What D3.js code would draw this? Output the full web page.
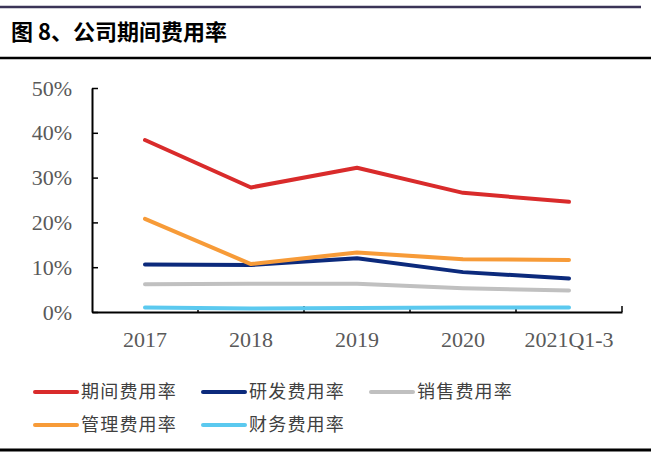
<!DOCTYPE html>
<html>
<head>
<meta charset="utf-8">
<title>公司期间费用率</title>
<script src="https://d3js.org/d3.v7.min.js"></script>
<style>
  body { margin: 0; background: #fff; }
  svg { display: block; }
</style>
</head>
<body>
<svg id="chart" width="651" height="452"></svg>
<script>
// ---------- data ----------
var categories = ["2017", "2018", "2019", "2020", "2021Q1-3"];
var seriesNames = ["期间费用率", "研发费用率", "销售费用率", "管理费用率", "财务费用率"];
var periodRate  = [38.4, 27.8, 32.2, 26.6, 24.6];
var rdRate      = [10.6, 10.5, 12.0, 8.9, 7.5];
var salesRate   = [6.2, 6.3, 6.3, 5.3, 4.8];
var adminRate   = [20.8, 10.7, 13.3, 11.8, 11.6];
var financeRate = [1.0, 0.8, 0.9, 1.0, 1.0];
var yTicks = [0, 10, 20, 30, 40, 50];

var colors = ["#d92b2b", "#0c2a7c", "#c0c0c0", "#f79b38", "#5bc9ef"];
var series = [periodRate, rdRate, salesRate, adminRate, financeRate];

// ---------- layout ----------
var svg = d3.select("#chart");
var plotL = 92, plotR = 622, plotT = 88, plotB = 312;

// frame lines + title
svg.append("line").attr("x1", 0).attr("x2", 641).attr("y1", 7).attr("y2", 7)
   .attr("stroke", "#3b3457").attr("stroke-width", 2.5);
svg.append("line").attr("x1", 0).attr("x2", 651).attr("y1", 58).attr("y2", 58)
   .attr("stroke", "#000").attr("stroke-width", 2.5);
svg.append("line").attr("x1", 0).attr("x2", 651).attr("y1", 450).attr("y2", 450)
   .attr("stroke", "#000").attr("stroke-width", 3);
svg.append("text").attr("x", 11).attr("y", 40)
   .attr("font-family", "'Noto Sans CJK SC', sans-serif")
   .attr("font-weight", "bold").attr("font-size", 22).attr("fill", "#000")
   .text("图 8、公司期间费用率");

// scales
var x = d3.scaleBand().domain(categories).range([plotL, plotR]).padding(0);
var y = d3.scaleLinear().domain([0, 50]).range([plotB, plotT]);
var cx = function(c) { return x(c) + x.bandwidth() / 2; };

// y axis
var yAxis = d3.axisLeft(y).tickValues(yTicks).tickFormat(function(d) { return d + "%"; })
   .tickSizeInner(-6).tickSizeOuter(0).tickPadding(20);
var gy = svg.append("g").attr("transform", "translate(" + plotL + ",0)").call(yAxis);
gy.select(".domain").attr("stroke", "#000").attr("stroke-width", 2);
gy.selectAll(".tick line").attr("stroke", "#000").attr("stroke-width", 1.5);
gy.selectAll(".tick text").attr("font-family", "'Liberation Serif', serif")
   .attr("font-size", 22).attr("fill", "#595959");

// x axis
var xAxis = d3.axisBottom(x).tickSize(0).tickPadding(19);
var gx = svg.append("g").attr("transform", "translate(0," + plotB + ")").call(xAxis);
gx.select(".domain").attr("stroke", "#000").attr("stroke-width", 2);
gx.selectAll(".tick text").attr("font-family", "'Liberation Serif', serif")
   .attr("font-size", 22).attr("fill", "#595959");
// boundary ticks between categories
gx.selectAll("line.bound")
   .data(categories.slice(1).concat(["end"]))
   .enter().append("line").attr("class", "bound")
   .attr("x1", function(d) { return d === "end" ? plotR : x(d); })
   .attr("x2", function(d) { return d === "end" ? plotR : x(d); })
   .attr("y1", 0).attr("y2", -6)
   .attr("stroke", "#000").attr("stroke-width", 1.5);

// lines
var line = d3.line()
   .x(function(d, i) { return cx(categories[i]); })
   .y(function(d) { return y(d); });

svg.selectAll("path.series")
   .data(series)
   .enter().append("path").attr("class", "series")
   .attr("d", line)
   .attr("fill", "none")
   .attr("stroke", function(d, i) { return colors[i]; })
   .attr("stroke-width", 4)
   .attr("stroke-linecap", "round")
   .attr("stroke-linejoin", "round");

// legend
var legendPos = [[35, 392], [203, 392], [371, 392], [35, 425], [203, 425]];
var lg = svg.selectAll("g.legend")
   .data(seriesNames)
   .enter().append("g").attr("class", "legend")
   .attr("transform", function(d, i) { return "translate(" + legendPos[i][0] + "," + legendPos[i][1] + ")"; });
lg.append("line").attr("x1", 0).attr("x2", 42).attr("y1", 0).attr("y2", 0)
   .attr("stroke", function(d, i) { return colors[i]; })
   .attr("stroke-width", 4).attr("stroke-linecap", "round");
lg.append("text").attr("x", 46).attr("y", 0).attr("dy", "0.36em")
   .attr("font-family", "'Noto Sans CJK SC', sans-serif")
   .attr("font-size", 18).attr("letter-spacing", "1.2px").attr("fill", "#404040")
   .text(function(d) { return d; });
</script>
</body>
</html>
